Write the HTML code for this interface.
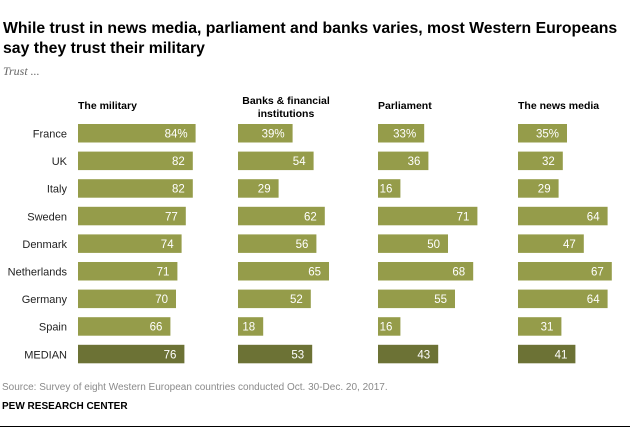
<!DOCTYPE html>
<html><head><meta charset="utf-8"><style>
body{margin:0;background:#fff;width:630px;height:436px;overflow:hidden;font-family:"Liberation Sans",sans-serif;}
#c{position:absolute;left:0;top:0}
</style></head><body>
<svg id="c" width="630" height="436">
<text x="3" y="33" font-size="15.8" font-weight="bold" fill="#000">While trust in news media, parliament and banks varies, most Western Europeans</text>
<text x="3" y="53" font-size="15.8" font-weight="bold" fill="#000">say they trust their military</text>
<text x="3" y="75" font-size="12" font-style="italic" fill="#666" font-family="Liberation Serif, serif">Trust ...</text>
<g id="g"></g>
<text x="2" y="390" font-size="10" fill="#8a8a8a">Source: Survey of eight Western European countries conducted Oct. 30-Dec. 20, 2017.</text>
<text x="2" y="409" font-size="10" font-weight="bold" fill="#000">PEW RESEARCH CENTER</text>
<line x1="0" y1="426.5" x2="630" y2="426.5" stroke="#000" stroke-width="1"/>
</svg>
<script>
const countries=["France","UK","Italy","Sweden","Denmark","Netherlands","Germany","Spain","MEDIAN"];
const military=[84,82,82,77,74,71,70,66,76];
const banks=[39,54,29,62,56,65,52,18,53];
const parliament=[33,36,16,71,50,68,55,16,43];
const newsMedia=[35,32,29,64,47,67,64,31,41];
const series=[military,banks,parliament,newsMedia];
const headers=[["The military"],["Banks & financial","institutions"],["Parliament"],["The news media"]];
const colX=[78,238,378,518];
const scale=1.4, top0=124, pitch=27.6, bh=18.5;
const NS="http://www.w3.org/2000/svg", g=document.getElementById('g');
function mk(t,a){const e=document.createElementNS(NS,t);for(const k in a)e.setAttribute(k,a[k]);g.appendChild(e);return e;}
headers.forEach((h,j)=>{
  h.forEach((line,k)=>{
    const anchor=h.length>1?"middle":"start";
    const x=h.length>1?colX[j]+48:colX[j];
    const y=h.length>1?104+k*13:109;
    const t=mk('text',{x:x,y:y,'font-size':10.5,'font-weight':'bold','text-anchor':anchor,fill:'#000'});
    t.textContent=line;
    
    
  });
});
countries.forEach((c,i)=>{
  const y=top0+i*pitch;
  const t=mk('text',{x:67,y:y+13.5,'font-size':11,'text-anchor':'end',fill:'#222'});
  t.textContent=c;
  
  
  series.forEach((s,j)=>{
    const w=s[i]*scale;
    const r=mk('rect',{x:colX[j],y:y,width:w,height:bh,fill:i===8?'#6c7235':'#959c4a'});
    
    
    const v=mk('text',{x:colX[j]+w-8,y:y+13.5,'font-size':11.5,'text-anchor':'end',fill:'#fff'});
    v.textContent=s[i]+(i===0?'%':'');
    
    
  });
});
</script>
</body></html>
